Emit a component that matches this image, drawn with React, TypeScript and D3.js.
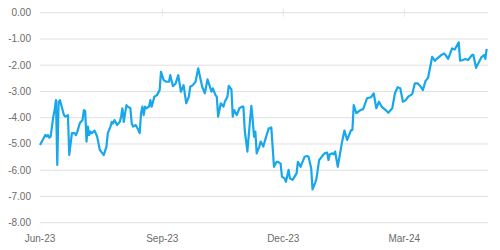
import React from "react";
import * as d3 from "d3";

const dates: string[] = [
  "2023-06-01","2023-06-03","2023-06-05","2023-06-06","2023-06-07","2023-06-08","2023-06-09","2023-06-11","2023-06-12","2023-06-13",
  "2023-06-14","2023-06-15","2023-06-16","2023-06-19","2023-06-20","2023-06-22","2023-06-23","2023-06-25","2023-06-27","2023-06-28",
  "2023-06-29","2023-07-01","2023-07-03","2023-07-04","2023-07-05","2023-07-06","2023-07-07","2023-07-08","2023-07-09","2023-07-10",
  "2023-07-12","2023-07-14","2023-07-16","2023-07-17","2023-07-19","2023-07-21","2023-07-22","2023-07-24","2023-07-25","2023-07-26",
  "2023-07-27","2023-07-29","2023-07-31","2023-08-01","2023-08-02","2023-08-03","2023-08-05","2023-08-06","2023-08-08","2023-08-09",
  "2023-08-10","2023-08-12","2023-08-14","2023-08-15","2023-08-16","2023-08-17","2023-08-18","2023-08-19","2023-08-20","2023-08-22",
  "2023-08-23","2023-08-24","2023-08-26","2023-08-28","2023-08-30","2023-08-31","2023-09-02","2023-09-04","2023-09-06","2023-09-07",
  "2023-09-09","2023-09-11","2023-09-13","2023-09-15","2023-09-17","2023-09-19","2023-09-21","2023-09-22","2023-09-24","2023-09-26",
  "2023-09-28","2023-10-01","2023-10-03","2023-10-05","2023-10-08","2023-10-09","2023-10-11","2023-10-12","2023-10-13","2023-10-15",
  "2023-10-17","2023-10-18","2023-10-20","2023-10-21","2023-10-23","2023-10-24","2023-10-25","2023-10-27","2023-10-29","2023-10-31",
  "2023-11-01","2023-11-02","2023-11-04","2023-11-06","2023-11-07","2023-11-08","2023-11-09","2023-11-10","2023-11-11","2023-11-13",
  "2023-11-14","2023-11-16","2023-11-17","2023-11-20","2023-11-21","2023-11-22","2023-11-24","2023-11-26","2023-11-27","2023-11-29",
  "2023-11-30","2023-12-02","2023-12-03","2023-12-05","2023-12-06","2023-12-08","2023-12-11","2023-12-12","2023-12-14","2023-12-17",
  "2023-12-19","2023-12-20","2023-12-22","2023-12-23","2023-12-25","2023-12-26","2023-12-28","2023-12-31","2024-01-01","2024-01-03",
  "2024-01-04","2024-01-05","2024-01-07","2024-01-08","2024-01-09","2024-01-11","2024-01-14","2024-01-16","2024-01-18","2024-01-21",
  "2024-01-22","2024-01-23","2024-01-25","2024-01-28","2024-01-30","2024-02-02","2024-02-05","2024-02-07","2024-02-09","2024-02-11",
  "2024-02-13","2024-02-16","2024-02-18","2024-02-21","2024-02-23","2024-02-25","2024-02-27","2024-02-29","2024-03-02","2024-03-04",
  "2024-03-07","2024-03-09","2024-03-11","2024-03-13","2024-03-15","2024-03-17","2024-03-18","2024-03-19","2024-03-22","2024-03-24",
  "2024-03-25","2024-03-29","2024-03-31","2024-04-01","2024-04-03","2024-04-06","2024-04-08","2024-04-11","2024-04-12","2024-04-14",
  "2024-04-16","2024-04-18","2024-04-21","2024-04-22","2024-04-24","2024-04-27","2024-04-28","2024-04-30","2024-05-01","2024-05-02",
];

const values: number[] = [
  -5.04,-4.85,-4.66,-4.72,-4.66,-4.76,-4.72,-3.96,-3.71,-3.33,
  -5.80,-3.39,-3.33,-3.90,-3.96,-3.90,-5.42,-4.59,-4.59,-4.66,
  -4.55,-4.20,-4.09,-3.71,-3.75,-4.91,-4.34,-4.66,-4.53,-4.59,
  -4.49,-4.72,-5.23,-5.29,-5.42,-5.10,-4.59,-4.34,-4.16,-4.22,
  -4.09,-4.28,-4.16,-3.96,-3.64,-4.16,-3.52,-3.58,-3.64,-4.22,
  -4.34,-4.28,-4.47,-4.59,-3.83,-3.58,-3.90,-3.58,-3.64,-3.58,
  -3.33,-3.58,-3.20,-3.14,-2.95,-2.25,-2.57,-2.63,-2.63,-2.38,
  -2.80,-2.70,-2.38,-3.01,-2.76,-3.45,-3.20,-2.82,-2.76,-2.63,
  -2.12,-2.82,-3.07,-2.54,-3.01,-2.88,-3.14,-3.20,-3.96,-3.45,
  -3.58,-3.39,-3.20,-2.79,-2.92,-3.96,-3.71,-3.90,-3.64,-3.58,
  -3.58,-4.47,-5.29,-4.09,-3.55,-4.09,-4.72,-4.53,-5.36,-5.10,
  -4.91,-5.10,-4.91,-4.41,-4.41,-4.37,-5.87,-5.68,-5.68,-5.75,
  -6.25,-6.31,-6.44,-5.99,-6.31,-6.37,-6.12,-5.68,-5.87,-5.49,
  -5.46,-5.49,-5.93,-6.73,-6.48,-6.31,-5.61,-5.42,-5.36,-5.33,
  -5.61,-5.39,-5.36,-5.39,-5.29,-5.87,-4.98,-4.49,-4.85,-4.47,
  -4.47,-3.52,-3.83,-3.71,-3.68,-3.26,-3.22,-3.07,-3.64,-3.39,
  -3.58,-3.71,-3.81,-3.64,-3.07,-2.84,-2.88,-3.39,-3.33,-3.20,
  -3.10,-2.69,-2.69,-2.79,-2.95,-2.60,-2.54,-2.47,-1.68,-1.83,
  -1.78,-1.61,-1.55,-1.61,-1.76,-1.36,-1.40,-1.13,-1.83,-1.80,
  -1.76,-1.80,-1.61,-1.61,-2.10,-1.80,-1.70,-1.61,-1.76,-1.38,
];

const yTicks: number[] = [0, -1, -2, -3, -4, -5, -6, -7, -8];
const xTickDates: string[] = ["2023-06-01", "2023-09-01", "2023-12-01", "2024-03-01"];
const xTickLabels: string[] = ["Jun-23", "Sep-23", "Dec-23", "Mar-24"];
const domainStart = "2023-06-01";
const domainEnd = "2024-05-03";

const parse = d3.timeParse("%Y-%m-%d");

export default function App() {
  const W = 500, H = 250;
  const x = d3.scaleTime()
    .domain([parse(domainStart)!, parse(domainEnd)!])
    .range([40, 488]);
  const y = d3.scaleLinear().domain([-8, 0]).range([222.7, 12.7]);
  const data = dates.map((d, i) => ({ date: parse(d)!, v: values[i] }));
  const line = d3.line<{ date: Date; v: number }>()
    .x((d) => x(d.date))
    .y((d) => y(d.v));
  const font = "'Liberation Sans', Arial, sans-serif";
  return (
    <svg width={W} height={H} style={{ position: "absolute", left: 0, top: 0, background: "#fff" }}>
      {yTicks.map((t) => (
        <g key={t}>
          <line x1={40} x2={488} y1={y(t)} y2={y(t)} stroke="#e0e0e0" strokeWidth={1} />
          <text x={31} y={y(t)} dy="0.35em" textAnchor="end" fontFamily={font} fontSize={10} fill="#6b6b6b">
            {t.toFixed(2)}
          </text>
        </g>
      ))}
      {xTickDates.map((d, i) => (
        <g key={d}>
          {i > 0 && (
            <line x1={x(parse(d)!)} x2={x(parse(d)!)} y1={y(0) - 4} y2={y(0) + 4} stroke="#e6e6e6" strokeWidth={1} />
          )}
          <text x={x(parse(d)!)} y={241.5} textAnchor="middle" fontFamily={font} fontSize={10} fill="#6b6b6b">
            {xTickLabels[i]}
          </text>
        </g>
      ))}
      <path d={line(data) || ""} fill="none" stroke="#17a7ea" strokeWidth={2.2} strokeLinejoin="round" />
    </svg>
  );
}
